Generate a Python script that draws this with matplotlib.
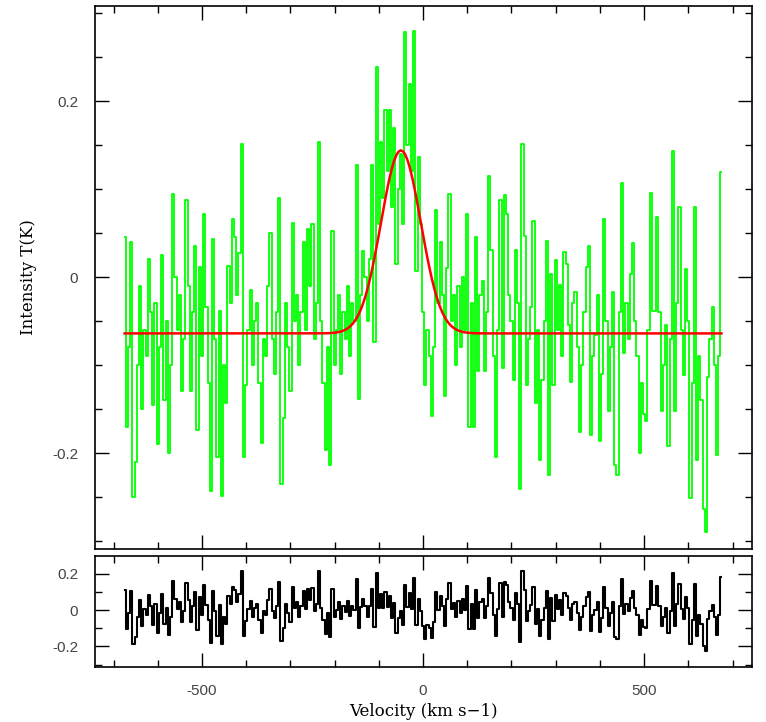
import numpy as np
import matplotlib
matplotlib.use('Agg')
import matplotlib.pyplot as plt
from matplotlib.ticker import MultipleLocator, FuncFormatter

plt.rcParams['axes.unicode_minus'] = False

# Channel grid (km/s)
v_start = -675
v_stop = 675
v_step = 5

spectrum = [
    0.045, -0.17, -0.08, 0.04, -0.25, -0.21, -0.10, -0.01, -0.15, -0.06,
    -0.09, 0.02, -0.04, -0.145, -0.03, -0.19, -0.08, 0.025, -0.14, -0.05,
    -0.20, -0.10, 0.094, 0.00, -0.06, -0.02, -0.13, -0.07, 0.088, -0.01,
    -0.13, -0.04, 0.035, -0.174, 0.011, -0.09, 0.072, -0.034, -0.12, -0.243,
    0.043, -0.07, -0.204, -0.038, -0.249, -0.10, -0.143, 0.013, -0.03, 0.066,
    0.045, -0.02, 0.027, 0.151, -0.204, -0.123, -0.06, -0.015, -0.10, -0.05,
    -0.03, -0.12, -0.188, -0.07, -0.09, -0.01, 0.05, -0.07, -0.11, -0.04,
    0.09, -0.235, -0.16, -0.03, -0.08, -0.13, 0.062, -0.05, -0.02, -0.10,
    -0.04, 0.04, -0.06, 0.055, -0.01, 0.06, -0.07, -0.03, 0.153, -0.05,
    -0.12, -0.196, -0.08, -0.213, 0.052, -0.10, -0.06, -0.02, -0.11, -0.04,
    -0.07, -0.01, -0.09, -0.03, -0.05, 0.127, -0.139, -0.02, 0.03, 0.00,
    -0.05, 0.02, 0.127, -0.074, 0.239, 0.06, 0.153, 0.09, 0.19, 0.12,
    0.19, 0.08, 0.17, 0.015, 0.10, 0.14, 0.06, 0.279, 0.15, 0.22,
    0.12, 0.28, 0.007, 0.137, 0.06, -0.04, -0.123, -0.06, -0.09, -0.158,
    -0.08, 0.076, -0.03, 0.04, -0.02, -0.135, 0.01, 0.094, -0.05, -0.02,
    -0.10, -0.01, -0.08, 0.00, -0.06, 0.072, -0.17, -0.03, -0.17, 0.045,
    -0.107, -0.02, -0.005, -0.107, -0.04, 0.115, 0.031, -0.09, -0.204, -0.06,
    0.088, -0.103, 0.093, 0.072, -0.02, -0.05, -0.117, 0.031, -0.03, -0.241,
    0.151, 0.047, -0.123, -0.07, -0.034, 0.064, -0.143, -0.06, -0.208, -0.117,
    -0.05, 0.041, -0.225, 0.003, -0.123, 0.019, -0.06, -0.009, -0.09, 0.029,
    0.015, -0.054, -0.119, -0.03, -0.017, -0.08, -0.176, -0.10, -0.04, 0.011,
    0.035, -0.18, -0.09, -0.066, -0.02, -0.186, -0.11, 0.066, -0.05, -0.152,
    -0.08, -0.017, -0.213, -0.225, -0.04, 0.107, -0.086, -0.03, -0.07, 0.003,
    0.039, -0.05, -0.09, -0.2, -0.12, -0.156, -0.164, -0.06, 0.096, -0.038,
    -0.038, 0.068, -0.04, -0.152, -0.10, -0.054, -0.192, -0.07, 0.143, -0.152,
    -0.03, 0.08, -0.06, -0.111, 0.009, -0.05, -0.251, -0.12, 0.08, -0.208,
    -0.09, -0.14, -0.263, -0.29, -0.113, -0.07, -0.034, -0.10, -0.202, -0.09,
    0.119,
]

# Gaussian fit parameters
fit_base = -0.064
fit_amp = 0.208
fit_center = -50.0
fit_sigma = 45.0

vel = np.arange(v_start, v_stop + v_step, v_step)
spec = np.array(spectrum)
model = fit_base + fit_amp * np.exp(-0.5 * ((vel - fit_center) / fit_sigma) ** 2)
resid = spec - model

fig = plt.figure(figsize=(7.66, 7.22), dpi=100)
ax1 = fig.add_axes([0.124, 0.2396, 0.8577, 0.752])
ax2 = fig.add_axes([0.124, 0.0762, 0.8577, 0.1537])

ax1.step(vel, spec, where='mid', color='#00ff00', lw=1.3)
ax1.plot(vel, model, color='#ff0000', lw=1.8)
ax2.step(vel, resid, where='mid', color='black', lw=1.5)

fmt = FuncFormatter(lambda y, p: '%g' % round(y, 3))
for ax in (ax1, ax2):
    ax.set_xlim(-742, 744)
    ax.xaxis.set_major_locator(MultipleLocator(500))
    ax.xaxis.set_minor_locator(MultipleLocator(100))
    ax.yaxis.set_major_locator(MultipleLocator(0.2))
    ax.yaxis.set_major_formatter(fmt)
    ax.tick_params(which='both', direction='in', top=True, right=True,
                   width=1.0, labelsize=11, labelcolor='#444444', pad=12)
    ax.tick_params(which='major', length=10)
    ax.tick_params(which='minor', length=5)
    for sp in ax.spines.values():
        sp.set_linewidth(1.2)
    for lab in ax.get_xticklabels() + ax.get_yticklabels():
        lab.set_family('Liberation Sans')

ax1.set_ylim(-0.309, 0.308)
ax1.yaxis.set_minor_locator(MultipleLocator(0.05))
ax1.tick_params(labelbottom=False)

ax2.set_ylim(-0.313, 0.298)
ax2.yaxis.set_minor_locator(MultipleLocator(0.1))

ax1.set_ylabel('Intensity T(K)', family='DejaVu Serif', fontsize=12, labelpad=11)
ax2.set_xlabel('Velocity (km s\u22121)', family='DejaVu Serif', fontsize=12, labelpad=4)

fig.savefig('out.png', dpi=100)
